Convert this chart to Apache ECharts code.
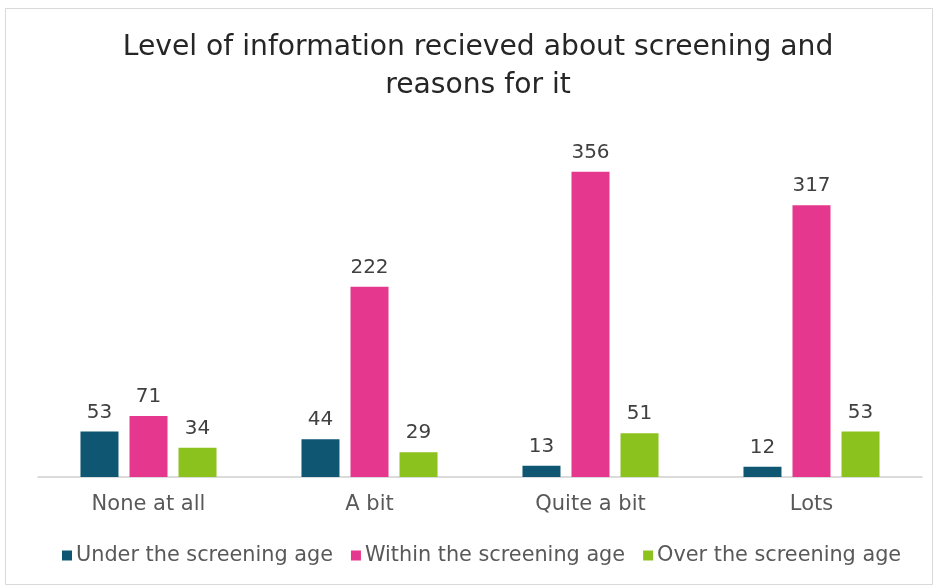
<!DOCTYPE html>
<html><head><meta charset="utf-8">
<script src="https://cdn.jsdelivr.net/npm/echarts@6/dist/echarts.min.js"></script>
<style>html,body{margin:0;padding:0;background:#fff}#c{width:938px;height:587px}</style>
</head><body><div id="c"></div>
<script>
const titleText = 'Level of information recieved about screening and\nreasons for it';
const categories = ['None at all', 'A bit', 'Quite a bit', 'Lots'];
const seriesNames = ['Under the screening age', 'Within the screening age', 'Over the screening age'];
const underAge = [53, 44, 13, 12];
const withinAge = [71, 222, 356, 317];
const overAge = [34, 29, 51, 53];
const colors = ['#0E5672', '#E6378E', '#8CC21E'];
const FONT = '"DejaVu Sans", "Noto Sans", sans-serif';

const chart = echarts.init(document.getElementById('c'));
const mk = (name, data, color) => ({
  name, type: 'bar', data, barWidth: 38, barGap: '29%',
  itemStyle: { color },
  label: { show: true, position: 'top', distance: 9, color: '#404040', fontSize: 20, fontFamily: FONT }
});
chart.setOption({
  animation: false,
  graphic: [
    { type: 'rect', shape: { x: 5.5, y: 8.5, width: 927, height: 576 }, style: { fill: 'none', stroke: '#d9d9d9', lineWidth: 1 }, silent: true },
    { type: 'text', x: 478, y: 29, silent: true,
      style: { text: titleText, textAlign: 'center', textVerticalAlign: 'top', fill: '#262626',
               fontFamily: FONT, fontSize: 28.2, lineHeight: 38 } }
  ],
  legend: {
    bottom: 16, left: 57, itemWidth: 10, itemHeight: 10, itemGap: 18,
    icon: 'rect',
    textStyle: { fontFamily: FONT, fontSize: 20.8, color: '#595959', padding: [0, 0, 0, -1] },
    data: seriesNames
  },
  grid: { left: 38, right: 16, top: 134, bottom: 110 },
  xAxis: {
    type: 'category', data: categories,
    axisLine: { lineStyle: { color: '#d0d0d0', width: 1.5 } },
    axisTick: { show: false },
    axisLabel: { fontFamily: FONT, fontSize: 21, color: '#595959', margin: 17 }
  },
  yAxis: { type: 'value', min: 0, max: 400, show: false, splitLine: { show: false } },
  series: [mk(seriesNames[0], underAge, colors[0]), mk(seriesNames[1], withinAge, colors[1]), mk(seriesNames[2], overAge, colors[2])]
});
</script></body></html>
